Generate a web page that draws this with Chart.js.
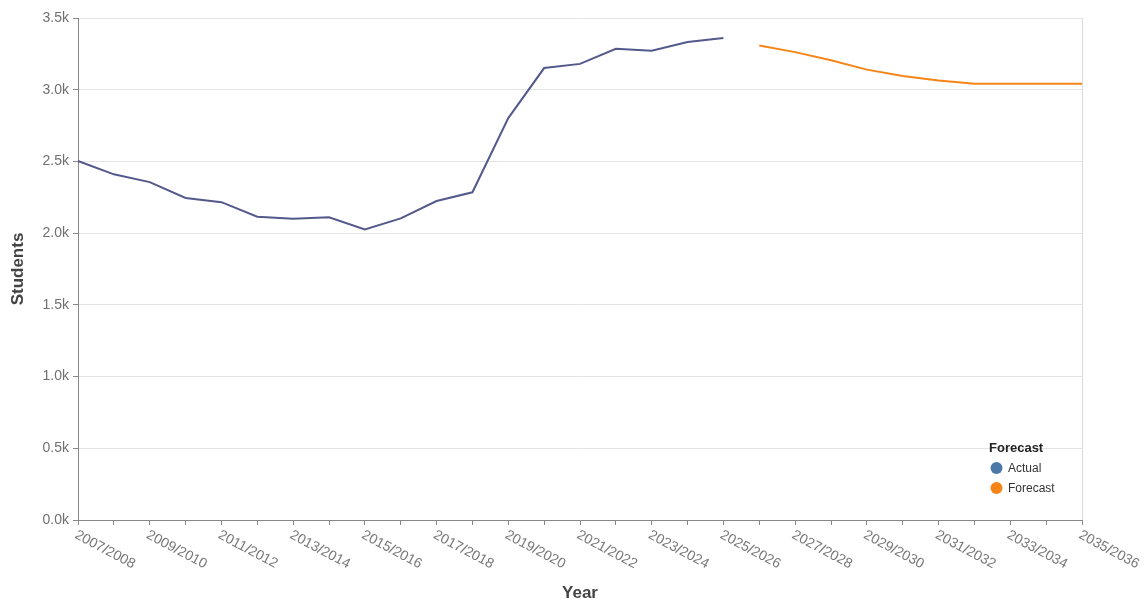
<!DOCTYPE html>
<html>
<head>
<meta charset="utf-8">
<script src="https://cdn.jsdelivr.net/npm/chart.js@4"></script>
<style>
  html, body { margin: 0; padding: 0; background: #fff; }
  #wrap { width: 1147px; height: 604px; }
</style>
</head>
<body>
<div id="wrap"><canvas id="lineGraph" width="1147" height="604"></canvas></div>
<script>
// school years on the x axis
let years = ['2007/2008', '2008/2009', '2009/2010', '2010/2011', '2011/2012', '2012/2013',
  '2013/2014', '2014/2015', '2015/2016', '2016/2017', '2017/2018', '2018/2019', '2019/2020',
  '2020/2021', '2021/2022', '2022/2023', '2023/2024', '2024/2025', '2025/2026', '2026/2027',
  '2027/2028', '2028/2029', '2029/2030', '2030/2031', '2031/2032', '2032/2033', '2033/2034',
  '2034/2035', '2035/2036'];

// actual students 2007/2008 .. 2025/2026
let actualValues = [2503, 2410, 2356, 2245, 2216, 2115, 2100, 2110, 2025, 2103, 2224, 2285,
  2802, 3151, 3180, 3285, 3272, 3332, 3361];

// forecast 2026/2027 .. 2035/2036
let forecastValues = [3308, 3262, 3206, 3140, 3096, 3064, 3042, 3042, 3042, 3042];

let yTicks = [0, 500, 1000, 1500, 2000, 2500, 3000, 3500];

let actualColor = '#54598c';
let forecastColor = '#f58518';
let fontFamily = '"Liberation Sans", Arial, sans-serif';

// pad the two series so they sit on the same category axis
let actualData = years.map((y, i) => i < actualValues.length ? actualValues[i] : null);
let forecastData = years.map((y, i) => {
    let j = i - actualValues.length;
    return j >= 0 && j < forecastValues.length ? forecastValues[j] : null;
});

// rotated x labels (start at the tick, running down to the right) + frame + legend
const extrasPlugin = {
    id: 'extras',
    beforeDatasetsDraw(chart) {
        const {ctx, chartArea} = chart;
        ctx.save();
        ctx.strokeStyle = '#dddddd';
        ctx.lineWidth = 1;
        ctx.beginPath();
        ctx.moveTo(chartArea.right + 0.5, chartArea.top);
        ctx.lineTo(chartArea.right + 0.5, chartArea.bottom);
        ctx.stroke();
        ctx.restore();
    },
    afterDraw(chart) {
        const {ctx} = chart;
        const xScale = chart.scales.x;
        ctx.save();
        ctx.fillStyle = '#777777';
        ctx.font = '14px ' + fontFamily;
        ctx.textAlign = 'left';
        ctx.textBaseline = 'top';
        for (let i = 0; i < years.length; i += 2) {
            let x = xScale.getPixelForValue(i);
            ctx.save();
            ctx.translate(x + 1, 528);
            ctx.rotate(28 * Math.PI / 180);
            ctx.fillText(years[i], 0, 0);
            ctx.restore();
        }

        // legend
        ctx.fillStyle = '#222222';
        ctx.font = 'bold 13px ' + fontFamily;
        ctx.textBaseline = 'middle';
        ctx.fillText('Forecast', 989, 448);
        let items = [['Actual', '#4c78a8', 468], ['Forecast', forecastColor, 488]];
        ctx.font = '12px ' + fontFamily;
        items.forEach(function (it) {
            ctx.beginPath();
            ctx.arc(996.5, it[2], 6, 0, Math.PI * 2);
            ctx.fillStyle = it[1];
            ctx.fill();
            ctx.fillStyle = '#333333';
            ctx.fillText(it[0], 1008, it[2] + 0.5);
        });
        ctx.restore();
    }
};

const lineCtx = document.getElementById('lineGraph').getContext('2d');
let lineChartInst = new Chart(lineCtx, {
    type: 'line',
    data: {
        labels: years,
        datasets: [{
                label: 'Actual',
                data: actualData,
                borderColor: actualColor,
                borderWidth: 2,
                pointRadius: 0,
                fill: false,
                tension: 0
            }, {
                label: 'Forecast',
                data: forecastData,
                borderColor: forecastColor,
                borderWidth: 2,
                pointRadius: 0,
                fill: false,
                tension: 0
            }]
    },
    options: {
        responsive: false,
        animation: false,
        layout: {padding: {top: 18, right: 65, left: 0, bottom: 0}},
        plugins: {legend: {display: false}, tooltip: {enabled: false}},
        scales: {
            x: {
                offset: false,
                afterFit: function (scale) { scale.height = 84; },
                border: {color: '#888888'},
                grid: {drawOnChartArea: false, drawTicks: true, tickLength: 5, color: '#888888'},
                ticks: {display: false},
                title: {
                    display: true, text: 'Year', color: '#444444',
                    font: {family: fontFamily, size: 17, weight: 'bold'},
                    padding: {top: 0, bottom: 0}
                }
            },
            y: {
                min: 0,
                max: 3500,
                afterFit: function (scale) { scale.width = 78; },
                afterBuildTicks: function (scale) { scale.ticks = yTicks.map(v => ({value: v})); },
                border: {color: '#888888'},
                grid: {color: '#e3e3e3', tickColor: '#888888', tickLength: 5},
                ticks: {
                    color: '#707070',
                    padding: 4,
                    font: {family: fontFamily, size: 14},
                    callback: function (v) { return (v / 1000).toFixed(1) + 'k'; }
                },
                title: {
                    display: true, text: 'Students', color: '#444444',
                    font: {family: fontFamily, size: 17, weight: 'bold'},
                    padding: {top: 8, bottom: 0}
                }
            }
        }
    },
    plugins: [extrasPlugin]
});
</script>
</body>
</html>
